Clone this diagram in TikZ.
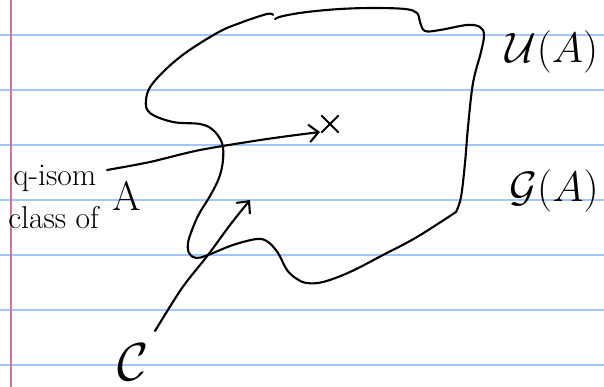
\documentclass[tikz,border=0pt]{standalone}
\usetikzlibrary{arrows.meta,shapes.misc}
\definecolor{ruleblue}{RGB}{160,200,255}
\definecolor{marginred}{RGB}{200,120,150}
\tikzset{
	ink/.style={line width=1.8pt, line cap=round, line join=round},
	handarrow/.style={ink, -{Straight Barb[length=8pt,width=15pt,line width=1.8pt]}},
	handtext/.style={inner sep=0pt, font=\huge},
}
\begin{document}
\begin{tikzpicture}[x=0.03cm, y=-0.03cm]
	\useasboundingbox (0,0) rectangle (604,387);
	\fill[white] (0,0) rectangle (604,387);
	% ruled paper
	\foreach \y in {35,90,...,365}
		\draw[ruleblue, line width=2pt] (0,\y) -- (604,\y);
	\draw[marginred, line width=2pt] (11,0) -- (11,387);
	% the region
	\draw[ink] plot[smooth, tension=0.6] coordinates {(275,19) (283,16) (307,12) (340,9) (373,8) (405,9) (417,13) (420,22) (425,31) (440,30) (467,25) (480,27) (484,35) (481,52) (473,83) (468,127) (465,163) (461,197) (456,212)};
	\draw[ink] plot[smooth, tension=0.6] coordinates {(456,212) (417,237) (383,255) (350,272) (323,282) (307,283) (297,279) (287,270) (278,253) (268,242) (257,239) (233,245) (208,255) (196,258) (189,253) (188,243) (192,230) (199,214) (210,196) (219,178) (223,160) (222,143) (213,130) (200,124) (173,122) (150,113) (146,100) (153,83) (180,57) (217,33) (240,23) (267,14) (273,15)};
	% labels
	\node[handtext, scale=1.75] (U) at (552,52) {$\mathcal{U}(A)$};
	\node[handtext, scale=1.75] (G) at (554,191) {$\mathcal{G}(A)$};
	\node[handtext, scale=2.2] (calC) at (133,362) {$\mathcal{C}$};
	\node[handtext, scale=1.3, anchor=base west] (qisom) at (13,185) {q-isom};
	\node[handtext, scale=1.3, anchor=base west] (classof) at (8,228) {class of};
	\node[handtext, scale=1.7, anchor=base west] (Aletter) at (112,210) {A};
	\node[draw, cross out, ink, minimum size=0.42cm, inner sep=0pt] (xmark) at (330,124) {};
	% arrows
	\coordinate (labtail) at (107,170);
	\coordinate (xtip) at (320,132);
	\coordinate (ctail) at (155,331);
	\coordinate (ctip) at (250,200);
	\draw[handarrow] plot[smooth] coordinates {(labtail) (150,162) (200,150) (267,139) (xtip)};
	\draw[handarrow] plot[smooth] coordinates {(ctail) (182,288) (208,255) (230,225) (ctip)};
\end{tikzpicture}
\end{document}
